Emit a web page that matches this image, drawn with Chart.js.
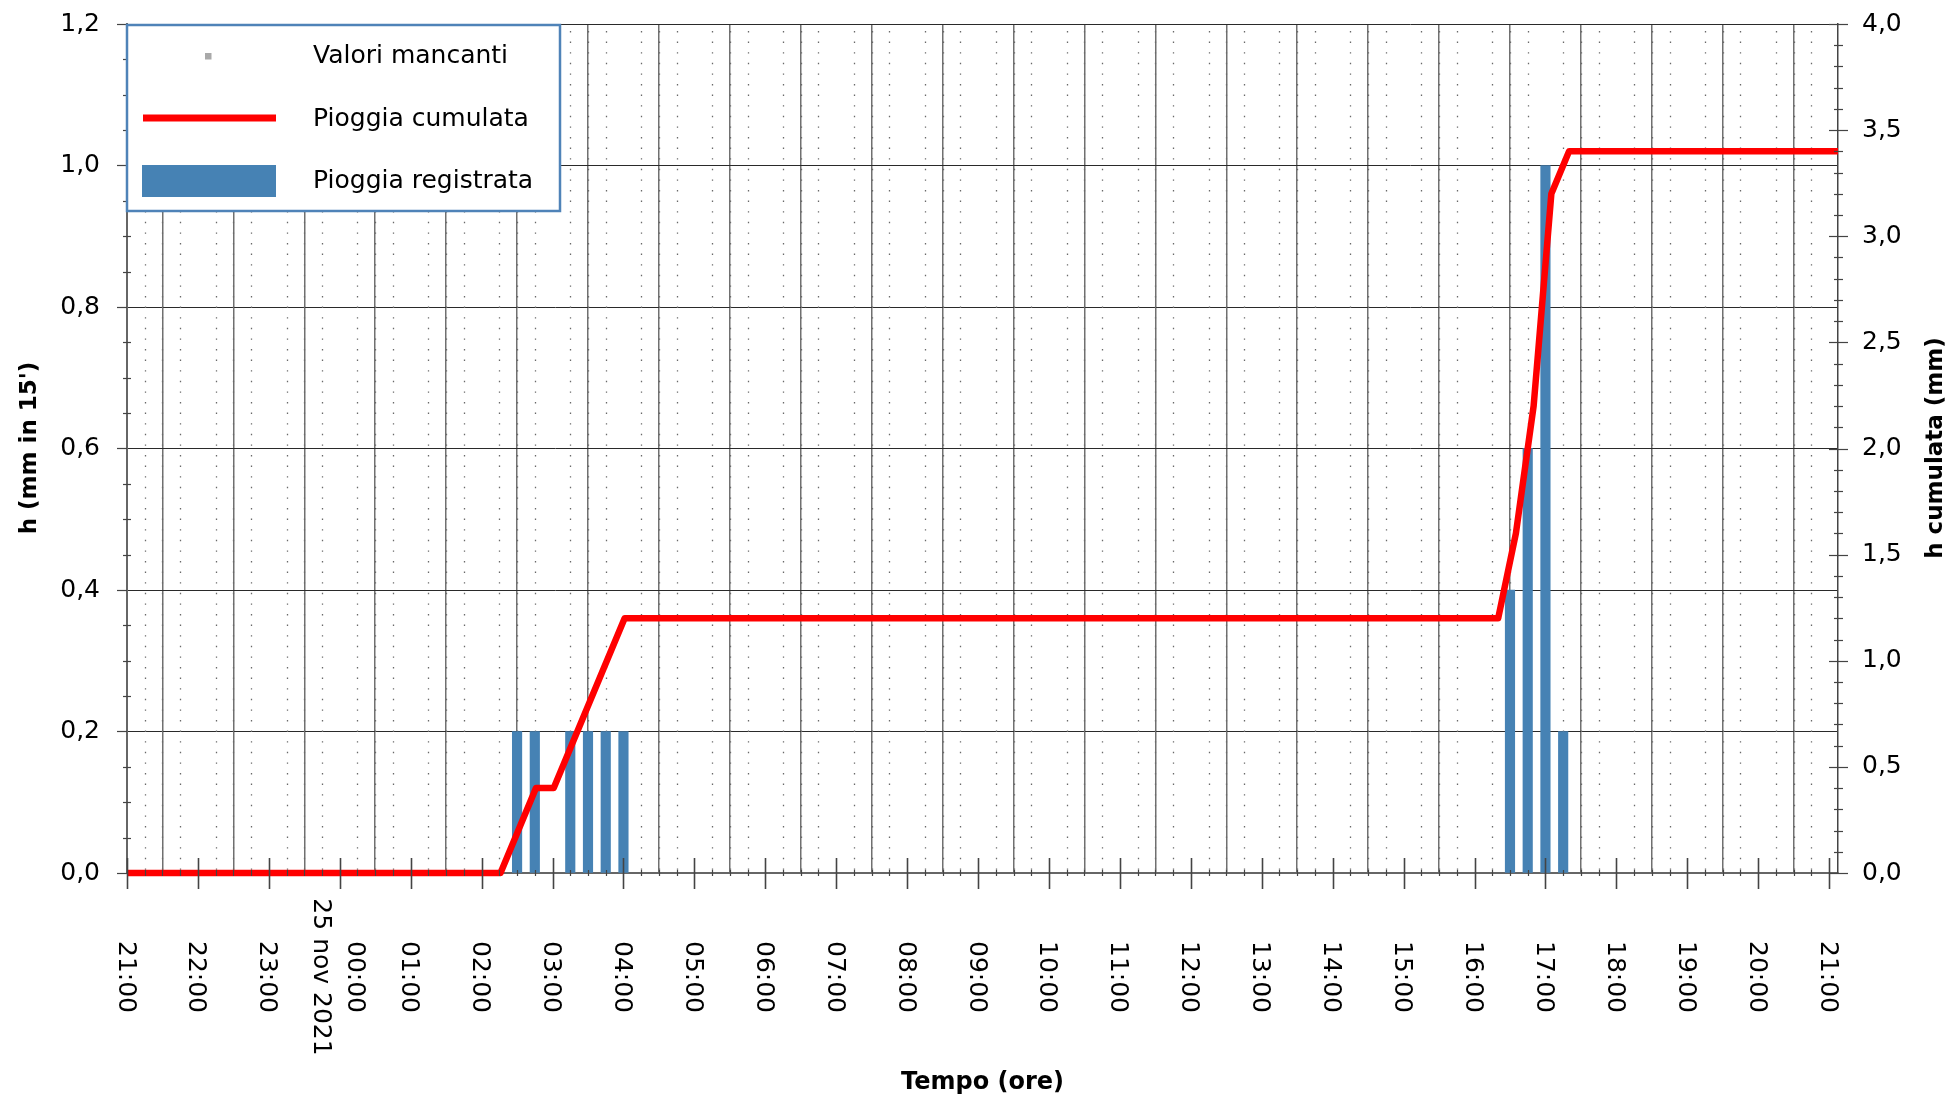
<!DOCTYPE html>
<html>
<head>
<meta charset="utf-8">
<script src="https://cdn.jsdelivr.net/npm/chart.js@4.4.1/dist/chart.umd.min.js"></script>
<style>
html,body{margin:0;padding:0;background:#fff;}
canvas{display:block;}
</style>
</head>
<body>
<canvas id="c" width="1950" height="1099"></canvas>
<script>
// ---------------- DATA ----------------
const startTime = '2021-11-24T21:00';
const endTime = '2021-11-25T21:07:30';

// 15-minute recorded rainfall (mm in 15'), non-zero intervals
const rainTimes = ['2021-11-25T02:30','2021-11-25T02:45','2021-11-25T03:15','2021-11-25T03:30','2021-11-25T03:45','2021-11-25T04:00',
                   '2021-11-25T16:30','2021-11-25T16:45','2021-11-25T17:00','2021-11-25T17:15'];
const rainValues = [0.2, 0.2, 0.2, 0.2, 0.2, 0.2, 0.4, 0.6, 1.0, 0.2];

// cumulative rainfall (mm)
const cumTimes = ['2021-11-24T21:00','2021-11-25T02:16','2021-11-25T02:46','2021-11-25T03:01','2021-11-25T04:01',
                  '2021-11-25T16:20','2021-11-25T16:35','2021-11-25T16:50','2021-11-25T17:05','2021-11-25T17:20','2021-11-25T21:07:30'];
const cumValues = [0, 0, 0.4, 0.4, 1.2, 1.2, 1.6, 2.2, 3.2, 3.4, 3.4];

// missing values (none in this period)
const missingTimes = [];
const missingValues = [];

const xTickLabels = ['21:00','22:00','23:00',['00:00','25 nov 2021'],'01:00','02:00','03:00','04:00','05:00','06:00',
  '07:00','08:00','09:00','10:00','11:00','12:00','13:00','14:00','15:00','16:00','17:00','18:00','19:00','20:00','21:00'];

const legendLabels = ['Valori mancanti','Pioggia cumulata','Pioggia registrata'];
const titleLeft = "h (mm in 15')";
const titleRight = 'h cumulata (mm)';
const titleBottom = 'Tempo (ore)';

// ---------------- HELPERS ----------------
const t0 = Date.parse(startTime);
const toH = s => (Date.parse(s) - t0) / 3600000;
const xMax = toH(endTime);
const fmt = v => v.toFixed(1).replace('.', ',');

const FONT = "'DejaVu Sans', 'Liberation Sans', Arial, sans-serif";

const decor = {
  id: 'decor',
  beforeDatasetsDraw(chart) {
    const {ctx, chartArea: a, scales: {x}} = chart;
    ctx.save();
    ctx.strokeStyle = '#6a6a6a';
    ctx.lineWidth = 1.3;
    ctx.setLineDash([1.4, 9.2]);
    ctx.lineDashOffset = -7;
    for (let q = 1; q < xMax * 4; q++) {
      if (q % 4 === 0) continue;
      const px = Math.round(x.getPixelForValue(q / 4)) + 0.5;
      ctx.beginPath();
      ctx.moveTo(px, a.top);
      ctx.lineTo(px, a.bottom);
      ctx.stroke();
    }
    ctx.restore();
  },
  afterDatasetsDraw(chart) {
    const {ctx, chartArea: a, scales: {x, y, y1}} = chart;
    ctx.save();
    ctx.strokeStyle = '#444';
    // x ticks
    for (let h = 0; h * 0.25 <= xMax; h++) {
      const v = h * 0.25;
      const px = Math.round(x.getPixelForValue(v)) + 0.5;
      ctx.beginPath();
      if (h % 4 === 0) { ctx.lineWidth = 1.6; ctx.moveTo(px, a.bottom - 15); ctx.lineTo(px, a.bottom + 16); }
      else { ctx.lineWidth = 1.2; ctx.moveTo(px, a.bottom - 3); ctx.lineTo(px, a.bottom + 3); }
      ctx.stroke();
    }
    // left y ticks
    for (let i = 0; i <= 24; i++) {
      const py = Math.round(y.getPixelForValue(i * 0.05)) + 0.5;
      ctx.beginPath();
      ctx.lineWidth = 1.2;
      if (i % 4 === 0) { ctx.moveTo(a.left - 10, py); ctx.lineTo(a.left, py); }
      else { ctx.moveTo(a.left - 4, py); ctx.lineTo(a.left + 4, py); }
      ctx.stroke();
    }
    // right y ticks
    for (let i = 0; i <= 40; i++) {
      const py = Math.round(y1.getPixelForValue(i * 0.1)) + 0.5;
      ctx.beginPath();
      ctx.lineWidth = 1.2;
      if (i % 5 === 0) { ctx.moveTo(a.right - 9, py); ctx.lineTo(a.right + 10, py); }
      else { ctx.moveTo(a.right - 4, py); ctx.lineTo(a.right + 5, py); }
      ctx.stroke();
    }
    // x tick labels, rotated clockwise
    ctx.fillStyle = '#000';
    ctx.font = '25px ' + FONT;
    ctx.textAlign = 'center';
    ctx.textBaseline = 'middle';
    xTickLabels.forEach((lab, i) => {
      const px = x.getPixelForValue(i);
      const lines = Array.isArray(lab) ? lab : [lab];
      ctx.save();
      ctx.translate(px, 977);
      ctx.rotate(Math.PI / 2);
      const lh = 34;
      lines.forEach((ln, k) => {
        const off = (k - (lines.length - 1) / 2) * lh;
        ctx.fillText(ln, 0, off + 2);
      });
      ctx.restore();
    });
    ctx.restore();
  },
  afterDraw(chart) {
    const {ctx, chartArea: a} = chart;
    const ds = chart.data.datasets;
    ctx.save();
    // legend box
    ctx.fillStyle = '#fff';
    ctx.fillRect(126, 24, 435, 188);
    ctx.strokeStyle = '#4f83b8';
    ctx.lineWidth = 2.5;
    ctx.strokeRect(127, 25, 433, 186);
    // missing values marker
    ctx.fillStyle = ds[0].backgroundColor;
    ctx.fillRect(205, 53, 6.5, 6.5);
    // cumulative line
    ctx.strokeStyle = ds[1].borderColor;
    ctx.lineWidth = 7;
    ctx.beginPath(); ctx.moveTo(143, 118); ctx.lineTo(276, 118); ctx.stroke();
    // bars
    ctx.fillStyle = ds[2].backgroundColor;
    ctx.fillRect(142, 165, 134, 32);
    ctx.fillStyle = '#000';
    ctx.font = '25px ' + FONT;
    ctx.textAlign = 'left';
    ctx.textBaseline = 'alphabetic';
    ctx.fillText(legendLabels[0], 313, 63);
    ctx.fillText(legendLabels[1], 313, 126);
    ctx.fillText(legendLabels[2], 313, 188);
    // titles
    ctx.font = 'bold 23px ' + FONT;
    ctx.textAlign = 'center';
    ctx.textBaseline = 'middle';
    ctx.save(); ctx.translate(30, 448); ctx.rotate(-Math.PI / 2); ctx.fillText(titleLeft, 0, 0); ctx.restore();
    ctx.save(); ctx.translate(1936, 448); ctx.rotate(-Math.PI / 2); ctx.fillText(titleRight, 0, 0); ctx.restore();
    ctx.font = 'bold 24px ' + FONT;
    ctx.fillText(titleBottom, (a.left + a.right) / 2, 1083);
    ctx.restore();
  }
};

const noPad = s => { s.paddingTop = 0; s.paddingBottom = 0; };

new Chart(document.getElementById('c'), {
  data: {
    datasets: [
      {
        type: 'scatter', label: legendLabels[0],
        data: missingTimes.map((t, i) => ({x: toH(t), y: missingValues[i]})),
        backgroundColor: '#a9a9a9', pointStyle: 'rect', pointRadius: 3, yAxisID: 'y', order: 2
      },
      {
        type: 'line', label: legendLabels[1],
        data: cumTimes.map((t, i) => ({x: toH(t), y: cumValues[i]})),
        borderColor: '#ff0000', borderWidth: 6.5, pointRadius: 0, tension: 0,
        borderJoinStyle: 'round', fill: false, yAxisID: 'y1', order: 0, clip: 10
      },
      {
        type: 'bar', label: legendLabels[2],
        data: rainTimes.map((t, i) => ({x: toH(t), y: rainValues[i]})),
        backgroundColor: '#4682b4', borderWidth: 0, barThickness: 9.5, yAxisID: 'y', order: 1
      }
    ]
  },
  options: {
    responsive: false, animation: false, devicePixelRatio: 1,
    layout: {padding: {top: 24, left: 0, right: 0, bottom: 0}},
    plugins: {legend: {display: false}, tooltip: {enabled: false}},
    scales: {
      x: {
        type: 'linear', min: 0, max: xMax, offset: false,
        ticks: {stepSize: 1, display: false, includeBounds: false},
        grid: {color: '#707070', lineWidth: 1.5, drawTicks: false},
        border: {display: true, color: '#666', width: 2},
        afterFit(s) { s.height = 226; s.paddingLeft = 0; s.paddingRight = 0; }
      },
      y: {
        type: 'linear', position: 'left', min: 0, max: 1.2,
        ticks: {stepSize: 0.2, padding: 27, color: '#000', font: {family: FONT, size: 25}, callback: v => fmt(v)},
        grid: {color: '#2a2a2a', lineWidth: 1, drawTicks: false},
        border: {display: true, color: '#666', width: 2},
        afterFit(s) { s.width = 127; noPad(s); }
      },
      y1: {
        type: 'linear', position: 'right', min: 0, max: 4,
        ticks: {stepSize: 0.5, padding: 24, color: '#000', font: {family: FONT, size: 25}, callback: v => fmt(v)},
        grid: {drawOnChartArea: false, drawTicks: false},
        border: {display: true, color: '#444', width: 1.5},
        afterFit(s) { s.width = 112; noPad(s); }
      }
    }
  },
  plugins: [decor]
});
</script>
</body>
</html>
